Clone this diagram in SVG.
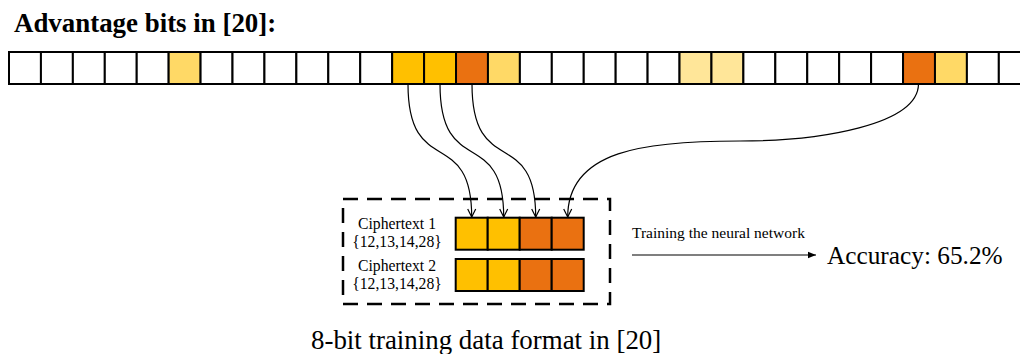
<svg xmlns="http://www.w3.org/2000/svg" width="1020" height="354" viewBox="0 0 1020 354">
<defs>
<style>
.c{stroke:#000;stroke-width:2;fill:#fff}
.g{fill:#FFC000}
.o{fill:#EA7111}
.y{fill:#FFD966}
.l{fill:#FFE699}
.t{font-family:"Liberation Serif","Times New Roman",serif;fill:#000}
.cv{fill:none;stroke:#000;stroke-width:1.2}
</style>
<marker id="v" viewBox="0 0 10 10" refX="9" refY="5" markerWidth="10" markerHeight="10" markerUnits="userSpaceOnUse" orient="auto">
<path d="M1,1 L9,5 L1,9" fill="none" stroke="#000" stroke-width="1.2"/>
</marker>
<marker id="f" viewBox="0 0 10 10" refX="10" refY="5" markerWidth="9" markerHeight="8" markerUnits="userSpaceOnUse" orient="auto">
<path d="M0,1 L10,5 L0,9 Z" fill="#000"/>
</marker>
</defs>
<rect width="1020" height="354" fill="#fff"/>
<text class="t" x="14" y="32" font-size="26.9" font-weight="bold">Advantage bits in [20]:</text>
<g id="bits">
<rect class="c" x="9" y="52" width="31.93" height="32"/>
<rect class="c" x="40.93" y="52" width="31.93" height="32"/>
<rect class="c" x="72.86" y="52" width="31.93" height="32"/>
<rect class="c" x="104.79" y="52" width="31.93" height="32"/>
<rect class="c" x="136.72" y="52" width="31.93" height="32"/>
<rect class="c y" x="168.65" y="52" width="31.93" height="32"/>
<rect class="c" x="200.58" y="52" width="31.93" height="32"/>
<rect class="c" x="232.51" y="52" width="31.93" height="32"/>
<rect class="c" x="264.44" y="52" width="31.93" height="32"/>
<rect class="c" x="296.37" y="52" width="31.93" height="32"/>
<rect class="c" x="328.3" y="52" width="31.93" height="32"/>
<rect class="c" x="360.23" y="52" width="31.93" height="32"/>
<rect class="c g" x="392.16" y="52" width="31.93" height="32"/>
<rect class="c g" x="424.09" y="52" width="31.93" height="32"/>
<rect class="c o" x="456.02" y="52" width="31.93" height="32"/>
<rect class="c y" x="487.95" y="52" width="31.93" height="32"/>
<rect class="c" x="519.88" y="52" width="31.93" height="32"/>
<rect class="c" x="551.81" y="52" width="31.93" height="32"/>
<rect class="c" x="583.74" y="52" width="31.93" height="32"/>
<rect class="c" x="615.67" y="52" width="31.93" height="32"/>
<rect class="c" x="647.6" y="52" width="31.93" height="32"/>
<rect class="c l" x="679.53" y="52" width="31.93" height="32"/>
<rect class="c l" x="711.46" y="52" width="31.93" height="32"/>
<rect class="c" x="743.39" y="52" width="31.93" height="32"/>
<rect class="c" x="775.32" y="52" width="31.93" height="32"/>
<rect class="c" x="807.25" y="52" width="31.93" height="32"/>
<rect class="c" x="839.18" y="52" width="31.93" height="32"/>
<rect class="c" x="871.11" y="52" width="31.93" height="32"/>
<rect class="c o" x="903.04" y="52" width="31.93" height="32"/>
<rect class="c y" x="934.97" y="52" width="31.93" height="32"/>
<rect class="c" x="966.9" y="52" width="31.93" height="32"/>
<rect class="c" x="998.83" y="52" width="31.93" height="32"/>
</g>
<g id="connectors">
<path class="cv" d="M408,84 C408,180 471.7,125 471.7,217" marker-end="url(#v)"/>
<path class="cv" d="M440,84 C440,180 503.7,125 503.7,217" marker-end="url(#v)"/>
<path class="cv" d="M472,84 C472,180 535.7,125 535.7,217" marker-end="url(#v)"/>
<path class="cv" d="M918.5,84 C918,125 820,141 740,141 C645,141 567.7,150 567.7,217" marker-end="url(#v)"/>
<path class="cv" d="M632,255 L816,255" marker-end="url(#f)"/>
</g>
<g id="format">
<rect x="343" y="199" width="267" height="105" fill="none" stroke="#000" stroke-width="2.5" stroke-dasharray="15,9"/>
<text class="t" x="397" y="229" font-size="15.7" text-anchor="middle">Ciphertext 1</text>
<text class="t" x="397" y="247" font-size="15.7" text-anchor="middle">{12,13,14,28}</text>
<text class="t" x="397" y="271" font-size="15.7" text-anchor="middle">Ciphertext 2</text>
<text class="t" x="397" y="289" font-size="15.7" text-anchor="middle">{12,13,14,28}</text>
</g>
<g id="cipher1">
<rect class="c g" x="455.7" y="217.7" width="32" height="32"/>
<rect class="c g" x="487.7" y="217.7" width="32" height="32"/>
<rect class="c o" x="519.7" y="217.7" width="32" height="32"/>
<rect class="c o" x="551.7" y="217.7" width="32" height="32"/>
</g>
<g id="cipher2">
<rect class="c g" x="455.7" y="259" width="32" height="32"/>
<rect class="c g" x="487.7" y="259" width="32" height="32"/>
<rect class="c o" x="519.7" y="259" width="32" height="32"/>
<rect class="c o" x="551.7" y="259" width="32" height="32"/>
</g>
<text class="t" x="632" y="238" font-size="15.5">Training the neural network</text>
<g id="accuracy">
<text class="t" x="827" y="264" font-size="25.3">Accuracy: 65.2%</text>
</g>
<text class="t" x="311" y="349" font-size="26.9">8-bit training data format in [20]</text>
</svg>
